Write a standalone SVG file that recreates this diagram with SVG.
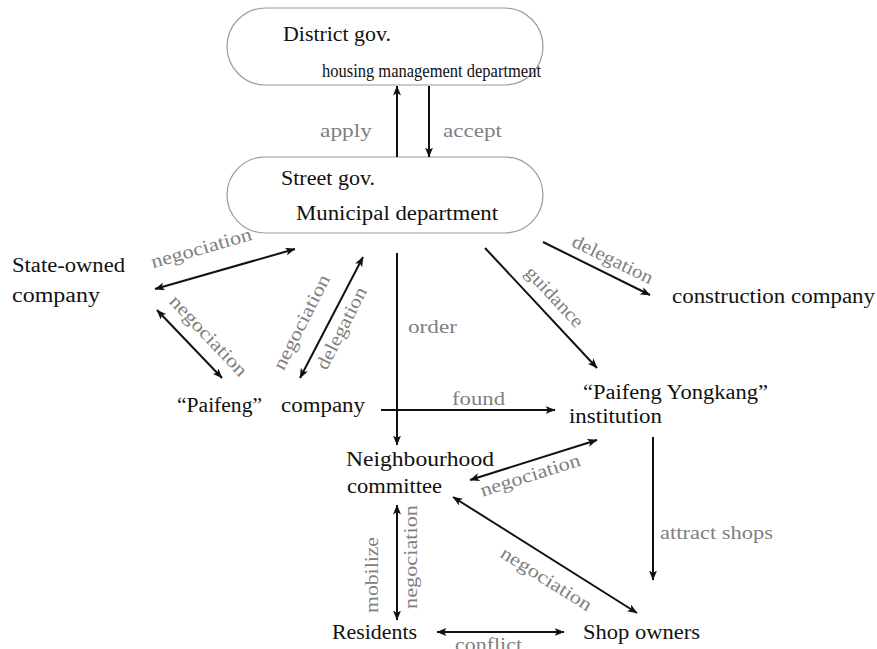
<svg xmlns="http://www.w3.org/2000/svg" width="877" height="649" viewBox="0 0 877 649">
<style>
.t{font-family:"Liberation Serif","Times New Roman",serif;font-size:20px;fill:#111}
.g{font-family:"Liberation Serif","Times New Roman",serif;font-size:19px;fill:#808080}
.pill{fill:#fff;stroke:#9a9a9a;stroke-width:1.2}
.c{stroke:#111;stroke-width:2;fill:none}
.s{marker-end:url(#ah)}
.d{marker-start:url(#ah);marker-end:url(#ah)}
</style>
<defs>
<marker id="ah" viewBox="0 0 10 8" refX="9.5" refY="4" markerWidth="10" markerHeight="8" markerUnits="userSpaceOnUse" orient="auto-start-reverse">
<path d="M0,0 L10,4 L0,8 L2.5,4 z" fill="#111"/>
</marker>
</defs>
<rect width="877" height="649" fill="#fff"/>
<g id="district">
<rect class="pill" x="227" y="8" width="316" height="77" rx="38.5"/>
<text class="t" x="283" y="41" textLength="108" lengthAdjust="spacingAndGlyphs">District gov.</text>
<text class="t" x="322" y="77" style="font-size:19px" textLength="219" lengthAdjust="spacingAndGlyphs">housing management department</text>
</g>
<g id="street">
<rect class="pill" x="227" y="157" width="316" height="76" rx="38"/>
<text class="t" x="281" y="185" textLength="94" lengthAdjust="spacingAndGlyphs">Street gov.</text>
<text class="t" x="296" y="220" textLength="202" lengthAdjust="spacingAndGlyphs">Municipal department</text>
</g>
<g id="state-owned">
<text class="t" x="12" y="272" textLength="113" lengthAdjust="spacingAndGlyphs">State-owned</text>
<text class="t" x="12" y="302" textLength="88" lengthAdjust="spacingAndGlyphs">company</text>
</g>
<g id="paifeng">
<text class="t" x="177" y="412" textLength="85" lengthAdjust="spacingAndGlyphs">“Paifeng”</text>
<text class="t" x="281" y="412" textLength="84" lengthAdjust="spacingAndGlyphs">company</text>
</g>
<g id="construction">
<text class="t" x="672" y="303" textLength="203" lengthAdjust="spacingAndGlyphs">construction company</text>
</g>
<g id="institution">
<text class="t" x="583" y="399" textLength="185" lengthAdjust="spacingAndGlyphs">“Paifeng Yongkang”</text>
<text class="t" x="569" y="423" textLength="93" lengthAdjust="spacingAndGlyphs">institution</text>
</g>
<g id="neighbourhood">
<text class="t" x="346" y="466" textLength="148" lengthAdjust="spacingAndGlyphs">Neighbourhood</text>
<text class="t" x="347" y="493" textLength="95" lengthAdjust="spacingAndGlyphs">committee</text>
</g>
<g id="residents">
<text class="t" x="332" y="639" textLength="85" lengthAdjust="spacingAndGlyphs">Residents</text>
</g>
<g id="shop-owners">
<text class="t" x="583" y="639" textLength="117" lengthAdjust="spacingAndGlyphs">Shop owners</text>
</g>
<g id="connectors">
<line class="c s" x1="397" y1="157" x2="397" y2="86"/>
<line class="c s" x1="429" y1="86" x2="429" y2="157"/>
<line class="c d" x1="155" y1="289" x2="295" y2="249"/>
<line class="c d" x1="157" y1="310" x2="222" y2="378"/>
<line class="c d" x1="363" y1="257" x2="300" y2="378"/>
<line class="c s" x1="397" y1="253" x2="397" y2="445"/>
<line class="c s" x1="485" y1="248" x2="597" y2="368"/>
<line class="c s" x1="543" y1="242" x2="650" y2="295"/>
<line class="c s" x1="381" y1="410" x2="555" y2="410"/>
<line class="c d" x1="470" y1="480" x2="597" y2="440"/>
<line class="c d" x1="453" y1="497" x2="637" y2="613"/>
<line class="c s" x1="653" y1="437" x2="653" y2="580"/>
<line class="c d" x1="397" y1="505" x2="397" y2="620"/>
<line class="c d" x1="437" y1="632" x2="564" y2="632"/>
</g>
<g id="labels">
<text class="g" x="320" y="137" textLength="52" lengthAdjust="spacingAndGlyphs">apply</text>
<text class="g" x="443" y="137" textLength="59" lengthAdjust="spacingAndGlyphs">accept</text>
<text class="g" text-anchor="middle" transform="translate(203,254) rotate(-16)" textLength="104" lengthAdjust="spacingAndGlyphs">negociation</text>
<text class="g" text-anchor="middle" transform="translate(204,340) rotate(46.5)" textLength="104" lengthAdjust="spacingAndGlyphs">negociation</text>
<text class="g" text-anchor="middle" transform="translate(307,325) rotate(-63)" textLength="104" lengthAdjust="spacingAndGlyphs">negociation</text>
<text class="g" text-anchor="middle" transform="translate(347,331) rotate(-63)" textLength="90" lengthAdjust="spacingAndGlyphs">delegation</text>
<text class="g" x="408" y="333" textLength="49" lengthAdjust="spacingAndGlyphs">order</text>
<text class="g" text-anchor="middle" transform="translate(550,301) rotate(47)" textLength="76" lengthAdjust="spacingAndGlyphs">guidance</text>
<text class="g" text-anchor="middle" transform="translate(610,265) rotate(26)" textLength="88" lengthAdjust="spacingAndGlyphs">delegation</text>
<text class="g" x="452" y="405" textLength="53" lengthAdjust="spacingAndGlyphs">found</text>
<text class="g" text-anchor="middle" transform="translate(532,481) rotate(-17.5)" textLength="104" lengthAdjust="spacingAndGlyphs">negociation</text>
<text class="g" text-anchor="middle" transform="translate(543,584) rotate(32)" textLength="104" lengthAdjust="spacingAndGlyphs">negociation</text>
<text class="g" x="660" y="539" textLength="113" lengthAdjust="spacingAndGlyphs">attract shops</text>
<text class="g" text-anchor="middle" transform="translate(378,575) rotate(-90)" textLength="76" lengthAdjust="spacingAndGlyphs">mobilize</text>
<text class="g" text-anchor="middle" transform="translate(417,557) rotate(-90)" textLength="104" lengthAdjust="spacingAndGlyphs">negociation</text>
<text class="g" x="455" y="651" textLength="67" lengthAdjust="spacingAndGlyphs">conflict</text>
</g>
</svg>
